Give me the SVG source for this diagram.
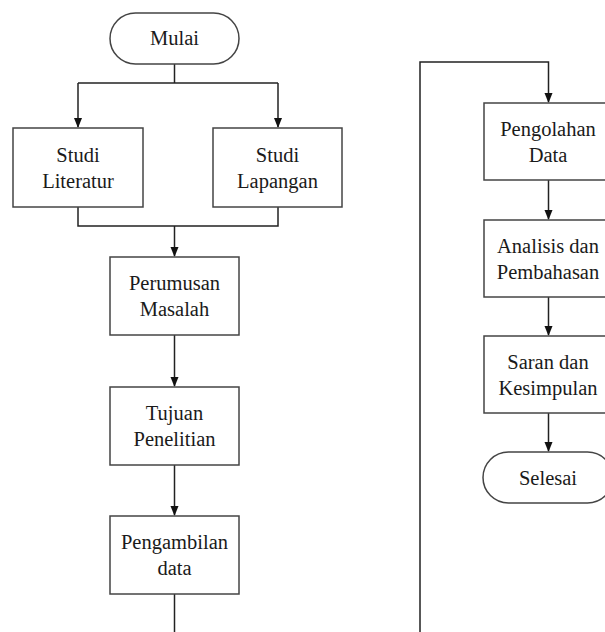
<svg xmlns="http://www.w3.org/2000/svg" width="605" height="632" viewBox="0 0 605 632">
<defs>
<marker id="ah" markerWidth="10" markerHeight="10" refX="9" refY="5" orient="auto" markerUnits="userSpaceOnUse">
<path d="M0,1 L10,5 L0,9 Z" fill="#111"/>
</marker>
<style>
.box{fill:#fff;stroke:#444;stroke-width:1.5}
.ln{fill:none;stroke:#222;stroke-width:1.5}
text{font-family:'Liberation Serif','Times New Roman',Times,serif;font-size:20.5px;fill:#1a1a1a;text-anchor:middle}
</style>
</defs>
<rect width="605" height="632" fill="#fff"/>
<g id="connectors">
<path class="ln" d="M174.5,64 V83"/>
<path class="ln" d="M78,83 H278"/>
<path class="ln" d="M78,83 V127" marker-end="url(#ah)"/>
<path class="ln" d="M278,83 V127" marker-end="url(#ah)"/>
<path class="ln" d="M78,207 V226 H278 V207"/>
<path class="ln" d="M174.5,226 V256" marker-end="url(#ah)"/>
<path class="ln" d="M174.5,335 V386" marker-end="url(#ah)"/>
<path class="ln" d="M174.5,465 V515" marker-end="url(#ah)"/>
<path class="ln" d="M174.5,594 V632"/>
<path class="ln" d="M420,632 V62 H548.5 V102" marker-end="url(#ah)"/>
<path class="ln" d="M548.5,180 V219" marker-end="url(#ah)"/>
<path class="ln" d="M548.5,297 V335" marker-end="url(#ah)"/>
<path class="ln" d="M548.5,413 V451" marker-end="url(#ah)"/>
</g>
<g id="mulai">
<rect class="box" x="110" y="13" width="129" height="51" rx="25.5"/>
<text x="174.5" y="45">Mulai</text>
</g>
<g id="studi-literatur">
<rect class="box" x="13" y="128" width="130" height="79"/>
<text x="78" y="161.5">Studi</text>
<text x="78" y="187.5">Literatur</text>
</g>
<g id="studi-lapangan">
<rect class="box" x="213" y="128" width="129" height="79"/>
<text x="277.5" y="161.5">Studi</text>
<text x="277.5" y="187.5">Lapangan</text>
</g>
<g id="perumusan">
<rect class="box" x="110" y="257" width="129" height="78"/>
<text x="174.5" y="290">Perumusan</text>
<text x="174.5" y="316">Masalah</text>
</g>
<g id="tujuan">
<rect class="box" x="110" y="387" width="129" height="78"/>
<text x="174.5" y="420">Tujuan</text>
<text x="174.5" y="446">Penelitian</text>
</g>
<g id="pengambilan">
<rect class="box" x="110" y="516" width="129" height="78"/>
<text x="174.5" y="549">Pengambilan</text>
<text x="174.5" y="575">data</text>
</g>
<g id="pengolahan">
<rect class="box" x="484" y="103" width="130" height="77"/>
<text x="548" y="135.5">Pengolahan</text>
<text x="548" y="161.5">Data</text>
</g>
<g id="analisis">
<rect class="box" x="484" y="220" width="130" height="77"/>
<text x="548" y="252.5">Analisis dan</text>
<text x="548" y="278.5">Pembahasan</text>
</g>
<g id="saran">
<rect class="box" x="484" y="336" width="130" height="77"/>
<text x="548" y="368.5">Saran dan</text>
<text x="548" y="394.5">Kesimpulan</text>
</g>
<g id="selesai">
<rect class="box" x="483" y="452" width="130" height="51" rx="25.5"/>
<text x="548" y="485">Selesai</text>
</g>
</svg>
